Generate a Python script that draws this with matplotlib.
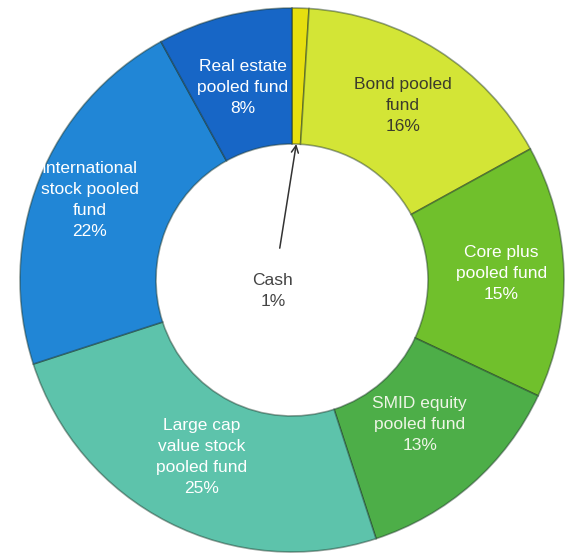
import numpy as np
import matplotlib
matplotlib.use("Agg")
import matplotlib.pyplot as plt

# pie data, clockwise from 12 o'clock
names = ["Cash", "Bond pooled\nfund", "Core plus\npooled fund", "SMID equity\npooled fund",
         "Large cap\nvalue stock\npooled fund", "International\nstock pooled\nfund",
         "Real estate\npooled fund"]
shares = [1, 16, 15, 13, 25, 22, 8]
colors = ["#e6df10", "#d3e536", "#70c02c", "#4dae48", "#5dc3ab", "#2186d6", "#1766c6"]
text_colors = [None, "#3b3b2c", "white", "#eef5e6", "white", "white", "white"]
label_r = [None, 0.76, 0.77, 0.71, 0.73, 0.80, 0.73]

W, H = 567, 559
cx, cy, R = 292, 280, 272  # donut center / radius in pixels

fig = plt.figure(figsize=(W / 100, H / 100), dpi=100)
ax = fig.add_axes([0, 0, 1, 1])

wedges, _ = ax.pie(shares, colors=colors, startangle=90, counterclock=False,
                   radius=1, frame=True,
                   wedgeprops=dict(width=0.5, edgecolor=(0.1, 0.2, 0.15, 0.45), linewidth=1.2))
ax.set_xlim(-cx / R, (W - cx) / R)
ax.set_ylim(-(H - cy) / R, cy / R)
ax.set_aspect("auto")
ax.axis("off")

for i, w in enumerate(wedges):
    if i == 0:
        continue
    mid = np.deg2rad((w.theta1 + w.theta2) / 2)
    r = label_r[i]
    ax.text(r * np.cos(mid), r * np.sin(mid), f"{names[i]}\n{shares[i]}%",
            ha="center", va="center", fontsize=12.5, color=text_colors[i],
            family="Liberation Sans", linespacing=1.5)

# cash label with arrow into the hole
cash_mid = np.deg2rad((wedges[0].theta1 + wedges[0].theta2) / 2)
ax.annotate(f"{names[0]}\n{shares[0]}%", xy=(0.5 * np.cos(cash_mid), 0.5 * np.sin(cash_mid)),
            xytext=(-0.07, -0.04), ha="center", va="center", fontsize=12.5,
            color="#444444", family="Liberation Sans", linespacing=1.5,
            arrowprops=dict(arrowstyle="->", color="#333333", lw=1.1,
                            shrinkA=16, shrinkB=0))

fig.savefig("out.png", dpi=100)
